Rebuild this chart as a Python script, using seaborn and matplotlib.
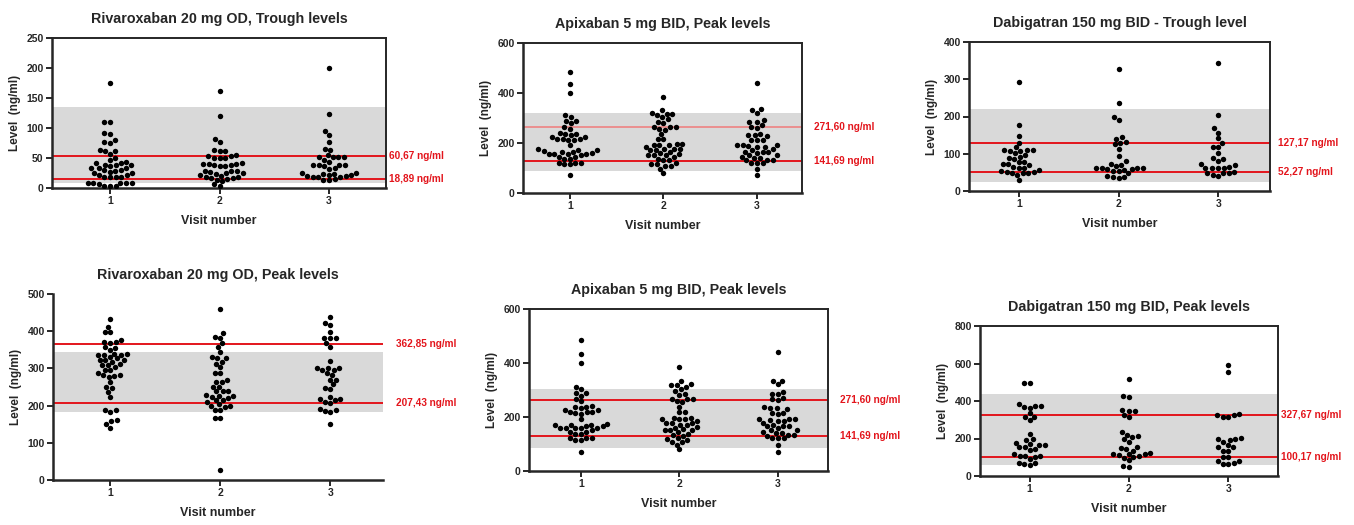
import matplotlib
matplotlib.use("Agg")
import matplotlib.pyplot as plt
import seaborn as sns
import pandas as pd

# values (ng/ml), one list per visit
visits = ["1", "2", "3"]

riva_trough_v1 = [33, 22, 39, 30, 18, 4, 61, 38, 25, 9, 110, 92, 76, 61, 46, 38, 29, 19, 9, 6,
                  175, 110, 90, 75, 64, 56, 50, 36, 27, 19, 9, 4, 80, 44, 33, 25, 9, 4,
                  41, 30, 18, 9, 41, 33, 22]
riva_trough_v2 = [41, 28, 19, 55, 40, 20, 50, 36, 26, 17, 61, 50, 36, 21, 11, 3, 162, 120, 61, 53,
                  25, 17, 6, 82, 77, 64, 50, 39, 24, 14, 53, 39, 25, 15, 40, 28, 40, 28, 18]
riva_trough_v3 = [22, 18, 51, 39, 20, 44, 33, 20, 88, 77, 65, 52, 38, 19, 200, 123, 95, 63, 55, 47,
                  39, 32, 24, 14, 51, 39, 23, 51, 37, 25, 15, 25, 18, 22, 13]

apix_peak_v1 = [165, 175, 232, 171, 151, 225, 169, 145, 122, 312, 289, 265, 238, 218, 158, 115,
                486, 435, 399, 303, 279, 225, 212, 158, 138, 122, 71, 289, 258, 238, 218, 158, 138, 115,
                241, 218, 171, 145, 122, 214, 191, 158, 161, 165]
apix_peak_v2 = [198, 178, 265, 178, 145, 118, 321, 303, 254, 191, 151, 108,
                318, 295, 258, 218, 178, 155, 134, 108, 80, 318, 285, 265, 238, 218, 198, 171, 151, 131, 98,
                332, 312, 281, 185, 161, 138, 115, 265, 191, 171, 151, 121, 191, 163, 386]
apix_peak_v3 = [145, 165, 131, 188, 165, 141, 332, 285, 262, 238, 214, 194, 171, 151, 122,
                439, 321, 285, 265, 232, 191, 178, 122, 95, 71, 335, 292, 272, 232, 212, 185, 151, 122,
                229, 185, 161, 134, 214, 191, 165, 134, 142]

dabi_trough_v1 = [53, 108, 72, 52, 108, 92, 77, 63, 49, 117, 101, 86, 70, 52, 293, 177, 148, 29,
                  128, 110, 79, 61, 43, 110, 97, 65, 49, 110, 88, 72, 47, 56]
dabi_trough_v2 = [62, 71, 59, 59, 38, 130, 72, 61, 47, 327, 235, 190, 144, 132, 114, 94, 67, 54, 38,
                  199, 140, 125, 81, 54, 40, 56, 34, 61, 63]
dabi_trough_v3 = [62, 43, 72, 52, 128, 117, 101, 86, 71, 61, 49, 344, 204, 168, 157, 141,
                  119, 88, 61, 49, 80, 65, 40, 62, 47]

riva_peak_v1 = [372, 336, 322, 278, 399, 376, 358, 340, 331, 318, 305, 282, 246, 188, 161, 139,
                434, 412, 367, 349, 336, 322, 309, 296, 282, 264, 251, 237, 224, 184, 158,
                399, 370, 356, 336, 322, 309, 296, 280, 188, 150, 340, 327, 311, 287]
riva_peak_v2 = [239, 227, 215, 200, 385, 358, 327, 269, 239, 224, 210, 197,
                459, 345, 331, 318, 304, 287, 264, 251, 239, 227, 215, 200, 188, 167, 28,
                394, 381, 367, 327, 313, 287, 264, 251, 221, 203, 188, 167, 228]
riva_peak_v3 = [296, 218, 188, 421, 381, 296, 269, 246, 219,
                437, 416, 399, 381, 358, 320, 302, 282, 257, 244, 224, 210, 183, 150,
                381, 367, 300, 287, 269, 206, 185, 300, 215, 192]

dabi_peak_v1 = [375, 178, 89, 313, 156, 117, 59, 498, 363, 316, 192, 165, 139, 107, 71, 224,
                498, 370, 334, 299, 196, 171, 144, 107, 62, 384, 165, 99, 67, 371, 156, 108]
dabi_peak_v2 = [142, 98, 121, 352, 195, 107, 427, 347, 313, 215, 183, 149, 117, 85, 50, 517,
                423, 325, 219, 135, 103, 53, 347, 233, 206, 153, 115, 115, 112]
dabi_peak_v3 = [325, 203, 64, 313, 192, 165, 135, 82, 592, 556, 313, 180, 135, 99, 67,
                329, 195, 153, 82, 323, 195, 153, 103, 62]

titles = ["Rivaroxaban 20 mg OD, Trough levels", "Apixaban 5 mg BID, Peak levels",
          "Dabigatran 150 mg BID - Trough level", "Rivaroxaban 20 mg OD, Peak levels",
          "Apixaban 5 mg BID, Peak levels", "Dabigatran 150 mg BID, Peak levels"]
line_labels = [("60,67 ng/ml", "18,89 ng/ml"), ("271,60 ng/ml", "141,69 ng/ml"),
               ("127,17 ng/ml", "52,27 ng/ml"), ("362,85 ng/ml", "207,43 ng/ml"),
               ("271,60 ng/ml", "141,69 ng/ml"), ("327,67 ng/ml", "100,17 ng/ml")]
line_levels = [(54, 15), (265, 130), (128, 52), (365, 208), (262, 128), (327, 101)]
bands = [(8, 135), (87, 321), (25, 220), (184, 343), (85, 302), (57, 435)]
y_max = [250, 600, 400, 500, 600, 800]
y_step = [50, 200, 100, 100, 200, 200]

panels = [
    [riva_trough_v1, riva_trough_v2, riva_trough_v3],
    [apix_peak_v1, apix_peak_v2, apix_peak_v3],
    [dabi_trough_v1, dabi_trough_v2, dabi_trough_v3],
    [riva_peak_v1, riva_peak_v2, riva_peak_v3],
    [apix_peak_v1, apix_peak_v2, apix_peak_v3],
    [dabi_peak_v1, dabi_peak_v2, dabi_peak_v3],
]

# layout in pixels: left, right, top, bottom of each axes
W, H = 1354, 525
boxes = [(52, 386, 38, 188), (523, 802, 43, 193), (969, 1270, 42, 191),
         (53, 383, 294, 480), (529, 828, 309, 471), (980, 1278, 326, 476)]
xlims = [(-0.53, 2.52), (-0.5, 2.48), (-0.5, 2.52), (-0.52, 2.48), (-0.53, 2.51), (-0.5, 2.5)]
label_dx = [2, 9, 6, 9, 9, 2]

sns.set_style("ticks")
plt.rcParams["font.family"] = ["Liberation Sans", "DejaVu Sans"]
plt.rcParams["font.weight"] = "bold"
plt.rcParams["axes.titleweight"] = "bold"
plt.rcParams["axes.labelweight"] = "bold"

RED = "#e3151c"

fig = plt.figure(figsize=(W / 100, H / 100), dpi=100)

for i in range(6):
    l, r, t, b = boxes[i]
    ax = fig.add_axes([l / W, 1 - b / H, (r - l) / W, (b - t) / H])

    rows = []
    for v, vals in zip(visits, panels[i]):
        for val in vals:
            rows.append({"visit": v, "level": val})
    df = pd.DataFrame(rows)

    ax.axhspan(bands[i][0], bands[i][1], color="#d9d9d9", lw=0, zorder=0)
    up_col = "#f07b7b" if i == 1 else RED
    ax.axhline(line_levels[i][0], color=up_col, lw=1.1 if i == 1 else 1.4, zorder=1)
    ax.axhline(line_levels[i][1], color=RED, lw=1.4, zorder=1)

    sns.swarmplot(data=df, x="visit", y="level", order=visits, color="black",
                  size=3.9, ax=ax, zorder=3, warn_thresh=1)

    for lab, lev in zip(line_labels[i], line_levels[i]):
        ax.annotate(lab, xy=(1, lev), xycoords=("axes fraction", "data"),
                    xytext=(label_dx[i], 0), textcoords="offset points",
                    color=RED, fontsize=7.2, fontweight="bold", va="center", ha="left",
                    annotation_clip=False)

    ax.set_xlim(*xlims[i])
    ax.set_ylim(0, y_max[i])
    ax.set_yticks(range(0, y_max[i] + 1, y_step[i]))
    ax.set_title(titles[i], fontsize=10.3, pad=11)
    ax.set_xlabel("Visit number", fontsize=9, labelpad=6)
    ax.set_ylabel("Level  (ng/ml)", fontsize=8.5, labelpad=4)
    ax.tick_params(axis="both", labelsize=7.5, width=1.4, length=4, pad=2)
    for s in ["left", "bottom"]:
        ax.spines[s].set_linewidth(1.8)
    if i == 3:
        sns.despine(ax=ax)
    else:
        for s in ["top", "right"]:
            ax.spines[s].set_linewidth(1.4)

fig.savefig("out.png", dpi=100)
